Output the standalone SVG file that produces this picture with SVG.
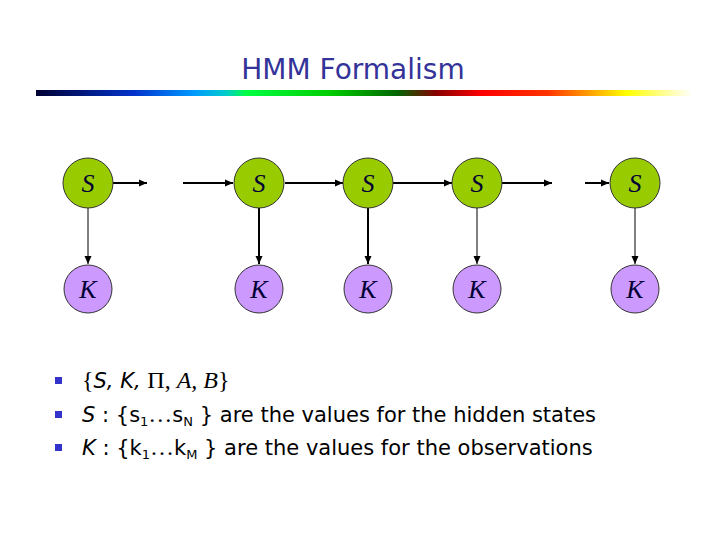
<svg xmlns="http://www.w3.org/2000/svg" width="720" height="540" viewBox="0 0 720 540">
<defs>
<linearGradient id="bar" x1="0" y1="0" x2="1" y2="0">
<stop offset="0" stop-color="#000033"/>
<stop offset="0.15" stop-color="#0033cc"/>
<stop offset="0.24" stop-color="#0099ff"/>
<stop offset="0.29" stop-color="#00cccc"/>
<stop offset="0.32" stop-color="#00ff44"/>
<stop offset="0.45" stop-color="#00cc00"/>
<stop offset="0.55" stop-color="#006600"/>
<stop offset="0.61" stop-color="#880000"/>
<stop offset="0.68" stop-color="#ff0000"/>
<stop offset="0.78" stop-color="#ff3300"/>
<stop offset="0.84" stop-color="#ff9900"/>
<stop offset="0.9" stop-color="#ffff00"/>
<stop offset="1" stop-color="#ffffff"/>
</linearGradient>
<marker id="ah" markerUnits="userSpaceOnUse" markerWidth="9" markerHeight="9" refX="8" refY="4.5" orient="auto">
<path d="M0,1 L8,4.5 L0,8 Z" fill="#000"/>
</marker>
</defs>
<style>
.title{font-family:"DejaVu Sans",sans-serif;font-size:28px;fill:#333399}
.s{fill:#99cc00;stroke:#333;stroke-width:1}
.k{fill:#cc99ff;stroke:#333;stroke-width:1}
.lab{font-family:"Liberation Serif",serif;font-style:italic;font-size:26px;fill:#000033;text-anchor:middle}
.e{stroke:#000;fill:none;marker-end:url(#ah)}
.body{font-family:"DejaVu Sans",sans-serif;font-size:21px;fill:#000}
.tm{font-family:"Liberation Serif",serif;font-size:24px}
.bul{fill:#3333cc}
</style>
<rect width="720" height="540" fill="#fff"/>
<text class="title" x="353" y="79" text-anchor="middle">HMM Formalism</text>
<rect x="36" y="90" width="656" height="6" fill="url(#bar)"/>
<g id="connectors">
<line class="e" x1="113" y1="183" x2="147" y2="183" stroke-width="2"/>
<line class="e" x1="183" y1="183" x2="233" y2="183" stroke-width="2"/>
<line class="e" x1="285" y1="183" x2="343" y2="183" stroke-width="2"/>
<line class="e" x1="393" y1="183" x2="452" y2="183" stroke-width="2"/>
<line class="e" x1="502" y1="183" x2="552" y2="183" stroke-width="2"/>
<line class="e" x1="585" y1="183" x2="609" y2="183" stroke-width="2"/>
<line class="e" x1="88" y1="208" x2="88" y2="264" stroke-width="1"/>
<line class="e" x1="259" y1="208" x2="259" y2="264" stroke-width="2"/>
<line class="e" x1="368" y1="208" x2="368" y2="264" stroke-width="2"/>
<line class="e" x1="477" y1="208" x2="477" y2="264" stroke-width="1"/>
<line class="e" x1="635" y1="208" x2="635" y2="264" stroke-width="1"/>
</g>
<g id="S1"><circle class="s" cx="88" cy="183" r="25"/><text class="lab" x="88" y="192">S</text></g>
<g id="S2"><circle class="s" cx="259" cy="183" r="25"/><text class="lab" x="259" y="192">S</text></g>
<g id="S3"><circle class="s" cx="368" cy="183" r="25"/><text class="lab" x="368" y="192">S</text></g>
<g id="S4"><circle class="s" cx="477" cy="183" r="25"/><text class="lab" x="477" y="192">S</text></g>
<g id="S5"><circle class="s" cx="635" cy="183" r="25"/><text class="lab" x="635" y="192">S</text></g>
<g id="K1"><circle class="k" cx="88" cy="289" r="24"/><text class="lab" x="88" y="298">K</text></g>
<g id="K2"><circle class="k" cx="259" cy="289" r="24"/><text class="lab" x="259" y="298">K</text></g>
<g id="K3"><circle class="k" cx="368" cy="289" r="24"/><text class="lab" x="368" y="298">K</text></g>
<g id="K4"><circle class="k" cx="477" cy="289" r="24"/><text class="lab" x="477" y="298">K</text></g>
<g id="K5"><circle class="k" cx="635" cy="289" r="24"/><text class="lab" x="635" y="298">K</text></g>
<g id="bullets">
<rect class="bul" x="55" y="377" width="7" height="7"/>
<rect class="bul" x="55" y="411" width="7" height="7"/>
<rect class="bul" x="55" y="444" width="7" height="7"/>
<text class="body" x="82" y="388"><tspan class="tm">{</tspan><tspan font-style="italic">S, K, </tspan><tspan class="tm">Π, </tspan><tspan class="tm" font-style="italic">A, B</tspan><tspan class="tm">}</tspan></text>
<text class="body" x="82" y="422"><tspan font-style="italic">S</tspan> : {s<tspan font-size="13" dy="4">1</tspan><tspan class="tm" font-size="20" dy="-4">…</tspan>s<tspan font-size="13" dy="4">N</tspan><tspan dy="-4"> } are the values for the hidden states</tspan></text>
<text class="body" x="82" y="455"><tspan font-style="italic">K</tspan> : {k<tspan font-size="13" dy="4">1</tspan><tspan class="tm" font-size="20" dy="-4">…</tspan>k<tspan font-size="13" dy="4">M</tspan><tspan dy="-4"> } are the values for the observations</tspan></text>
</g>
</svg>
